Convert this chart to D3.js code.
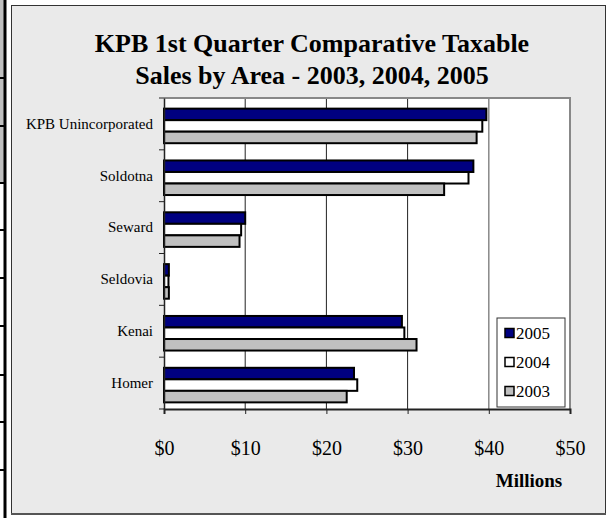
<!DOCTYPE html>
<html>
<head>
<meta charset="utf-8">
<script src="https://cdn.jsdelivr.net/npm/d3@7"></script>
<style>
  body { margin: 0; background: #fff; }
  svg { display: block; }
</style>
</head>
<body>
<div id="chart"></div>
<script>
// data ($ millions)
const areas = ["KPB Unincorporated", "Soldotna", "Seward", "Seldovia", "Kenai", "Homer"];
const years = ["2005", "2004", "2003"];
const sales2005 = [39.7, 38.1, 10.0, 0.6, 29.3, 23.4];
const sales2004 = [39.2, 37.5, 9.5, 0.55, 29.6, 23.8];
const sales2003 = [38.5, 34.5, 9.3, 0.6, 31.1, 22.5];
const xTicks = [0, 10, 20, 30, 40, 50];
const titleLines = ["KPB 1st Quarter Comparative Taxable", "Sales by Area - 2003, 2004, 2005"];

const seriesByYear = { "2005": sales2005, "2004": sales2004, "2003": sales2003 };
const fills = { "2005": "#000080", "2004": "#ffffff", "2003": "#c0c0c0" };

const FONT = "Liberation Serif, Times New Roman, serif";
const W = 615, H = 518;
const plot = { left: 164, right: 570, top: 98, bottom: 409 };

const svg = d3.select("#chart").append("svg")
    .attr("width", W)
    .attr("height", H)
    .attr("font-family", FONT);

// bit of the neighbouring table on the left edge
svg.append("rect").attr("x", 0).attr("y", 0).attr("width", 5).attr("height", 183).attr("fill", "#c0c0c0");
svg.append("line").attr("x1", 5).attr("x2", 5).attr("y1", 0).attr("y2", H)
    .attr("stroke", "#000").attr("stroke-width", 3);
[78, 126, 183, 230, 278, 326, 375, 422, 470].forEach(yy => {
    svg.append("line").attr("x1", 0).attr("x2", 6).attr("y1", yy).attr("y2", yy)
        .attr("stroke", "#000").attr("stroke-width", 2);
});

// chart area
svg.append("rect")
    .attr("x", 11.5).attr("y", 5.5)
    .attr("width", 594).attr("height", 508)
    .attr("fill", "#eaeaea")
    .attr("stroke", "#333")
    .attr("stroke-width", 1);
svg.append("line").attr("x1", 11).attr("x2", 606).attr("y1", 514).attr("y2", 514)
    .attr("stroke", "#555").attr("stroke-width", 2);

// title
svg.append("text")
    .attr("text-anchor", "middle")
    .attr("font-size", 26)
    .attr("font-weight", "bold")
    .selectAll("tspan")
    .data(titleLines)
    .enter()
    .append("tspan")
    .attr("x", 312)
    .attr("y", (d, i) => 52 + i * 32)
    .text(d => d);

const x = d3.scaleLinear()
    .domain([0, 50])
    .range([plot.left, plot.right]);

const y = d3.scaleBand()
    .domain(areas)
    .range([plot.top, plot.bottom])
    .paddingInner(0.333)
    .paddingOuter(0.1665);

const ySub = d3.scaleBand()
    .domain(years)
    .range([0, y.bandwidth()]);

// plot background
svg.append("rect")
    .attr("x", plot.left).attr("y", plot.top)
    .attr("width", plot.right - plot.left)
    .attr("height", plot.bottom - plot.top)
    .attr("fill", "#fff");

// gridlines
svg.append("g")
    .selectAll("line")
    .data(xTicks.filter(d => d > 0 && d < 50))
    .enter()
    .append("line")
    .attr("x1", d => x(d)).attr("x2", d => x(d))
    .attr("y1", plot.top).attr("y2", plot.bottom)
    .attr("stroke", d => d === 40 ? "#888" : "#222")
    .attr("stroke-width", d => d === 40 ? 1.5 : 1);

// top and right frame
svg.append("path")
    .attr("d", `M${plot.left},${plot.top}H${plot.right}V${plot.bottom}`)
    .attr("fill", "none")
    .attr("stroke", "#888")
    .attr("stroke-width", 2);

// bars
const groups = svg.append("g")
    .selectAll("g")
    .data(areas)
    .enter()
    .append("g")
    .attr("transform", d => `translate(0,${y(d) + 2})`);

groups.selectAll("rect")
    .data((d, i) => years.map(yr => ({ year: yr, value: seriesByYear[yr][i] })))
    .enter()
    .append("rect")
    .attr("x", x(0))
    .attr("y", d => ySub(d.year))
    .attr("width", d => x(d.value) - x(0))
    .attr("height", ySub.bandwidth())
    .attr("fill", d => fills[d.year])
    .attr("stroke", "#000")
    .attr("stroke-width", 2);

// x axis
const xAxis = svg.append("g")
    .attr("transform", `translate(0,${plot.bottom})`)
    .call(d3.axisBottom(x).tickValues(xTicks).tickSize(5).tickFormat(d => "$" + d));
xAxis.attr("font-family", FONT);
xAxis.select(".domain").attr("stroke", "#222").attr("stroke-width", 2);
xAxis.selectAll(".tick line").attr("stroke", "#222");
xAxis.selectAll("text")
    .attr("font-size", 20)
    .attr("fill", "#000")
    .attr("y", 0)
    .attr("dy", 46);

// y axis: labels at band centres, ticks on band boundaries
const yAxis = svg.append("g")
    .attr("transform", `translate(${plot.left},0)`)
    .call(d3.axisLeft(y).tickSize(0).tickPadding(11));
yAxis.attr("font-family", FONT);
yAxis.select(".domain").attr("stroke", "#222").attr("stroke-width", 1.5);
yAxis.selectAll("text")
    .attr("font-size", 15)
    .attr("fill", "#000");

svg.append("g")
    .selectAll("line")
    .data(d3.range(areas.length + 1))
    .enter()
    .append("line")
    .attr("x1", plot.left - 5).attr("x2", plot.left)
    .attr("y1", i => plot.top + i * y.step())
    .attr("y2", i => plot.top + i * y.step())
    .attr("stroke", "#222");

// axis title
svg.append("text")
    .attr("x", 529)
    .attr("y", 487)
    .attr("text-anchor", "middle")
    .attr("font-size", 19)
    .attr("font-weight", "bold")
    .text("Millions");

// legend
const legend = svg.append("g").attr("transform", "translate(497,318)");
legend.append("rect")
    .attr("width", 68).attr("height", 89)
    .attr("fill", "#fff")
    .attr("stroke", "#333");
const items = legend.selectAll("g.item")
    .data(years)
    .enter()
    .append("g")
    .attr("class", "item")
    .attr("transform", (d, i) => `translate(0,${15 + i * 29})`);
items.append("rect")
    .attr("x", 8).attr("y", -4.5)
    .attr("width", 9).attr("height", 9)
    .attr("fill", d => fills[d])
    .attr("stroke", "#000")
    .attr("stroke-width", 1.5);
items.append("text")
    .attr("x", 19)
    .attr("dy", "0.35em")
    .attr("font-size", 17)
    .text(d => d);
</script>
</body>
</html>
